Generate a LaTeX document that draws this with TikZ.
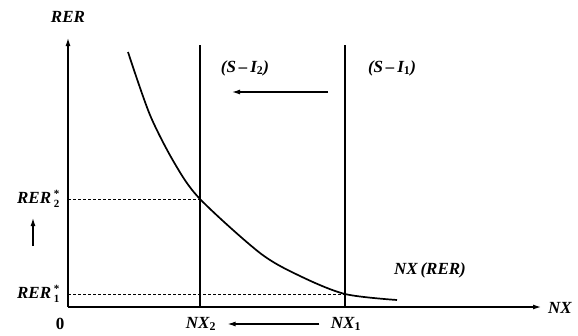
\documentclass[tikz,border=0pt]{standalone}
\usepackage{fontspec}
\setmainfont{Liberation Serif}
\usetikzlibrary{arrows.meta}
\newcommand{\lab}[1]{{\bfseries\itshape #1}}
\newcommand{\rerstar}[1]{\lab{RER}\,\raisebox{-4pt}{\fontsize{11}{10}\selectfont\bfseries\shortstack[l]{*\\#1}}}
\begin{document}
\begin{tikzpicture}[x=1pt,y=-1pt,
		every node/.style={font=\fontsize{17}{20}\selectfont},
		axis/.style={line width=1.2pt,-{Latex[length=8pt,width=5pt]}},
		movearrow/.style={line width=1.2pt,-{Latex[length=8pt,width=5pt]}},
		guide/.style={dash pattern=on 3pt off 2pt,thin},
		saving/.style={line width=1.8pt}]
	\useasboundingbox (0,0) rectangle (578,335);
	% axes
	\coordinate (o) at (68,307);
	\coordinate (ytop) at (68,38);
	\coordinate (xend) at (541,307);
	\draw[axis] (o) -- (ytop);
	\draw[axis] (o) -- (xend);
	\node (rer) at (68,17) {\lab{RER}};
	\node (nx) at (560,308) {\lab{NX}};
	\node (zero) at (60,324) {\textbf{0}};
	% saving minus investment lines
	\coordinate (s2top) at (200,45);
	\coordinate (s2bot) at (200,307);
	\coordinate (s1top) at (345,45);
	\coordinate (s1bot) at (345,307);
	\draw[saving] (s2top) -- (s2bot);
	\draw[saving] (s1top) -- (s1bot);
	\node (si2) at (245,68) {\lab{(S\,–\,I}\textsubscript{\bfseries 2}\lab{)}};
	\node (si1) at (392,68) {\lab{(S\,–\,I}\textsubscript{\bfseries 1}\lab{)}};
	\coordinate (sa) at (328,92);
	\coordinate (sb) at (232,92);
	\draw[movearrow] (sa) -- (sb);
	% NX curve
	\draw[line width=1.7pt] plot[smooth] coordinates {(128,52) (150,115) (175,164) (200,199) (260,253) (300,276) (345,294) (397,300)};
	\node (nxrer) at (430,270) {\lab{NX\,(RER)}};
	% equilibria
	\coordinate (e2) at (200,199);
	\coordinate (e1) at (345,294);
	\coordinate (a2) at (68,199);
	\coordinate (a1) at (68,294);
	\draw[guide] (a2) -- (e2);
	\draw[guide] (a1) -- (e1);
	\node[anchor=east] (rer2) at (63,199) {\rerstar{2}};
	\node[anchor=east] (rer1) at (63,294) {\rerstar{1}};
	\coordinate (ua) at (33,246);
	\coordinate (ub) at (33,218);
	\draw[movearrow] (ua) -- (ub);
	% bottom labels
	\node (nx2) at (201,324) {\lab{NX}\textsubscript{\bfseries 2}};
	\node (nx1) at (346,324) {\lab{NX}\textsubscript{\bfseries 1}};
	\draw[movearrow] ([xshift=-8pt]nx1.west) -- ([xshift=8pt]nx2.east);
\end{tikzpicture}
\end{document}
